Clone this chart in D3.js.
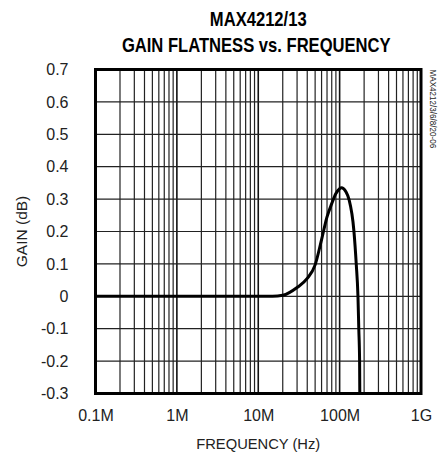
<!DOCTYPE html>
<html lang="en">
<head>
<meta charset="UTF-8" />
<title>Gain Flatness vs. Frequency</title>
<script src="https://cdn.jsdelivr.net/npm/d3@7"></script>
<style>
  body { margin: 0; background: #fff; }
  text { font-family: "Liberation Sans Narrow", "Arial Narrow", "Liberation Sans", Arial, sans-serif; fill: #222; }
  .title { font-weight: bold; font-size: 20px; fill: #000; }
  .tick text { font-size: 16px; }
  .axis-label { font-size: 15.5px; }
  .code { font-size: 9px; }
</style>
</head>
<body>
<script>
// frequency in Hz, gain in dB
var freq = [1e5, 1e6, 1e7, 1.5e7, 2e7, 3e7, 4e7, 5e7, 6e7, 7e7, 8e7, 9e7, 1e8, 1.05e8, 1.2e8, 1.3e8, 1.5e8, 1.6e8, 1.68e8, 1.72e8, 1.76e8, 1.77e8];
var gain = [0, 0, 0, 0, 0.003, 0.027, 0.055, 0.097, 0.175, 0.245, 0.286, 0.317, 0.332, 0.335, 0.322, 0.3, 0.2, 0.1, 0, -0.1, -0.2, -0.3];

var xTicks = [1e5, 1e6, 1e7, 1e8, 1e9];
var xTickLabels = ["0.1M", "1M", "10M", "100M", "1G"];
var yTicks = [-0.3, -0.2, -0.1, 0, 0.1, 0.2, 0.3, 0.4, 0.5, 0.6, 0.7];
var yTickLabels = ["-0.3", "-0.2", "-0.1", "0", "0.1", "0.2", "0.3", "0.4", "0.5", "0.6", "0.7"];

var W = 441, H = 453;
var pLeft = 95.5, pRight = 421, pTop = 69.5, pBottom = 393.5;

var svg = d3.select("body").append("svg")
  .attr("width", W)
  .attr("height", H);

var x = d3.scaleLog().domain([1e5, 1e9]).range([pLeft, pRight]);
var y = d3.scaleLinear().domain([-0.3, 0.7]).range([pBottom, pTop]);

// minor vertical grid: 2..9 in every decade
var minor = [];
for (var dec = 1e5; dec < 1e9; dec *= 10) {
  for (var k = 2; k <= 9; k++) minor.push(dec * k);
}

svg.append("g")
  .selectAll("line.vminor")
  .data(minor)
  .enter().append("line")
  .attr("class", "vminor")
  .attr("x1", function(d) { return x(d); })
  .attr("x2", function(d) { return x(d); })
  .attr("y1", pTop)
  .attr("y2", pBottom)
  .attr("stroke", "#222")
  .attr("stroke-width", 1.2);

svg.append("g")
  .selectAll("line.vmajor")
  .data(xTicks)
  .enter().append("line")
  .attr("x1", function(d) { return x(d); })
  .attr("x2", function(d) { return x(d); })
  .attr("y1", pTop)
  .attr("y2", pBottom)
  .attr("stroke", "#111")
  .attr("stroke-width", 1.6);

svg.append("g")
  .selectAll("line.h")
  .data(yTicks)
  .enter().append("line")
  .attr("x1", pLeft)
  .attr("x2", pRight)
  .attr("y1", function(d) { return y(d); })
  .attr("y2", function(d) { return y(d); })
  .attr("stroke", "#222")
  .attr("stroke-width", 1.2);

// axes (labels only)
var xAxis = d3.axisBottom(x)
  .tickValues(xTicks)
  .tickSize(0)
  .tickPadding(16)
  .tickFormat(function(d, i) { return xTickLabels[i]; });
var gx = svg.append("g")
  .attr("transform", "translate(0," + pBottom + ")")
  .call(xAxis);
gx.select(".domain").remove();

var yAxis = d3.axisLeft(y)
  .tickValues(yTicks)
  .tickSize(0)
  .tickPadding(27)
  .tickFormat(function(d, i) { return yTickLabels[i]; });
var gy = svg.append("g")
  .attr("transform", "translate(" + pLeft + ",0)")
  .call(yAxis);
gy.select(".domain").remove();
svg.selectAll(".tick text").attr("fill", "#222");

// frame
svg.append("rect")
  .attr("x", pLeft)
  .attr("y", pTop)
  .attr("width", pRight - pLeft)
  .attr("height", pBottom - pTop)
  .attr("fill", "none")
  .attr("stroke", "#000")
  .attr("stroke-width", 3);

// curve
var pts = freq.map(function(f, i) { return [f, gain[i]]; });
var line = d3.line()
  .x(function(d) { return x(d[0]); })
  .y(function(d) { return y(d[1]); })
  .curve(d3.curveMonotoneX);

svg.append("path")
  .datum(pts)
  .attr("d", line)
  .attr("fill", "none")
  .attr("stroke", "#000")
  .attr("stroke-width", 3)
  .attr("stroke-linejoin", "round");

// titles (condensed look)
var cx = (pLeft + pRight) / 2;
svg.append("text").attr("class", "title")
  .attr("transform", "translate(" + cx + ",26) scale(0.83,1)")
  .attr("text-anchor", "middle")
  .text("MAX4212/13");
svg.append("text").attr("class", "title")
  .attr("transform", "translate(" + (cx - 2) + ",52) scale(0.83,1)")
  .attr("text-anchor", "middle")
  .text("GAIN FLATNESS vs. FREQUENCY");

svg.append("text").attr("class", "axis-label")
  .attr("transform", "translate(" + cx + ",449) scale(0.95,1)")
  .attr("text-anchor", "middle")
  .text("FREQUENCY (Hz)");

svg.append("text").attr("class", "axis-label")
  .attr("transform", "translate(27," + ((pTop + pBottom) / 2) + ") rotate(-90)")
  .attr("text-anchor", "middle")
  .text("GAIN (dB)");

svg.append("text").attr("class", "code")
  .attr("transform", "translate(430," + pTop + ") rotate(90) scale(0.9,1)")
  .attr("text-anchor", "start")
  .text("MAX4212/3/6/8/20-06");
</script>
</body>
</html>
